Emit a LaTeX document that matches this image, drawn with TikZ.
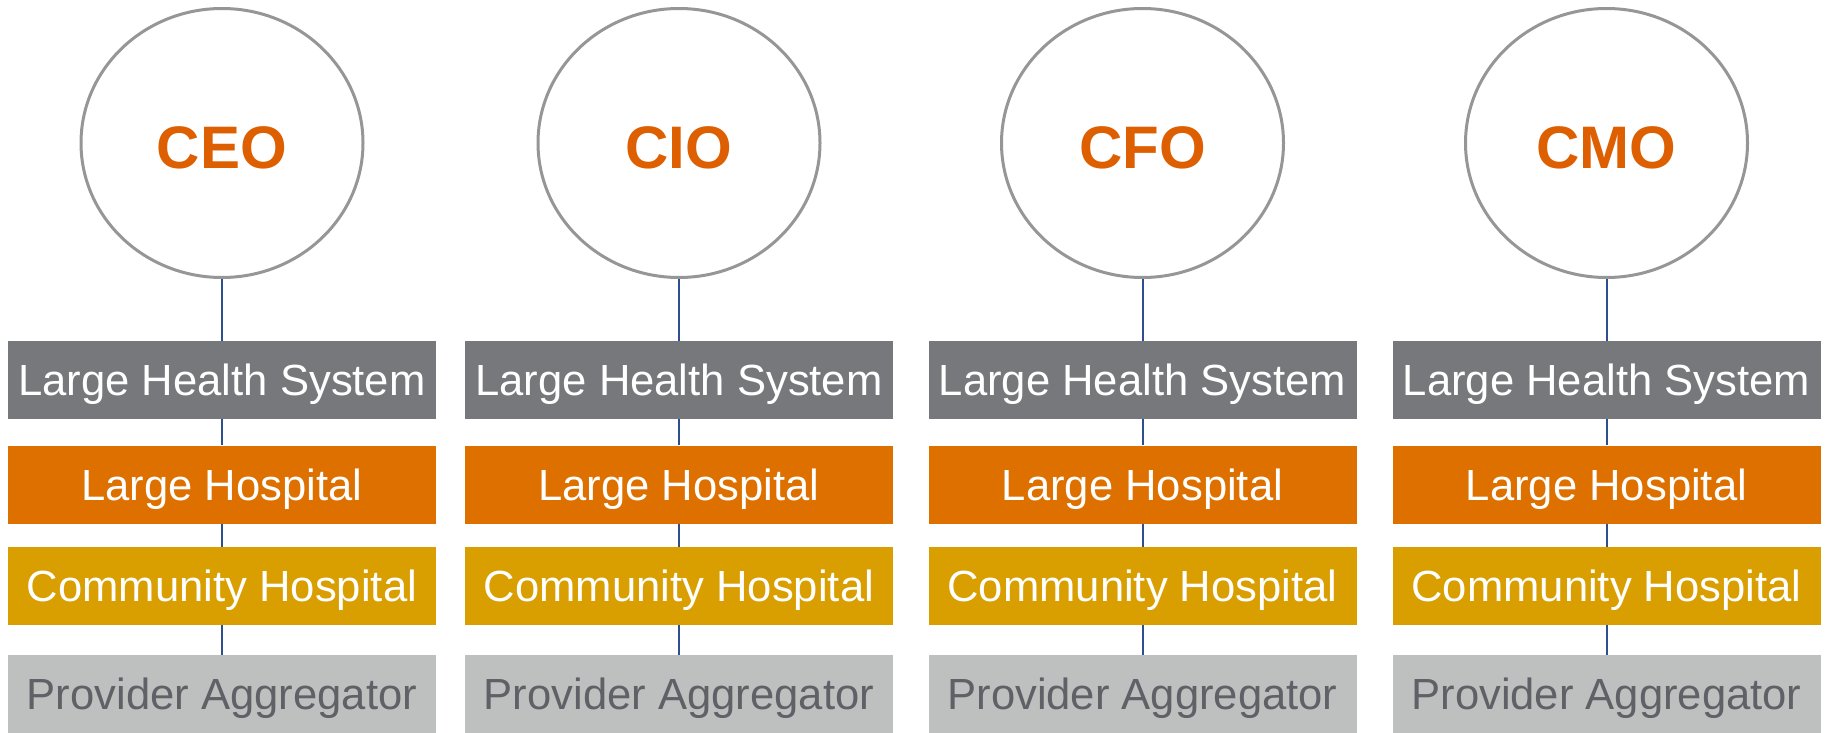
\documentclass[tikz,border=0pt]{standalone}
\usepackage{fontspec}
\setmainfont{Liberation Sans}
\usetikzlibrary{shapes.geometric}
\definecolor{roleorange}{HTML}{DD5F00}
\definecolor{ringgray}{HTML}{969696}
\definecolor{linkblue}{HTML}{2B4F8F}
\definecolor{sysgray}{HTML}{76787C}
\definecolor{hosporange}{HTML}{DE7000}
\definecolor{commgold}{HTML}{D99E00}
\definecolor{aggrgray}{HTML}{BEBFBF}
\definecolor{aggrtext}{HTML}{5F6166}
\tikzset{
  role/.style={ellipse, draw=ringgray, line width=3pt, fill=white,
    minimum width=282pt, minimum height=269pt, inner sep=0pt,
    text=roleorange, font=\bfseries\fontsize{60}{70}\selectfont,
    text height=50pt, text depth=0pt},
  tier/.style={rectangle, inner sep=0pt, minimum width=428pt, minimum height=78pt,
    font=\fontsize{43.6}{50}\selectfont, text height=31.4pt, text depth=0pt},
  systier/.style={tier, fill=sysgray, text=white},
  hosptier/.style={tier, fill=hosporange, text=white},
  commtier/.style={tier, fill=commgold, text=white},
  aggrtier/.style={tier, fill=aggrgray, text=aggrtext},
  link/.style={draw=linkblue, line width=2pt}
}
\begin{document}
\begin{tikzpicture}[x=1pt,y=-1pt]
\useasboundingbox (0,0) rectangle (1829,733);
\foreach \cx/\i/\role in {222/0/CEO,679/1/CIO,1142.5/2/CFO,1606.5/3/CMO}{
  \node[role] (r\i) at (\cx,143) {\role};
  \node[systier]  (s\i) at (\cx,380)   {Large Health System};
  \node[hosptier] (h\i) at (\cx,484.5) {Large Hospital};
  \node[commtier] (c\i) at (\cx,586)   {Community Hospital};
  \node[aggrtier] (a\i) at (\cx,693.7) {Provider Aggregator};
  % reporting chain down the column
  \draw[link] (r\i) -- (s\i);
  \draw[link] (s\i) -- (h\i);
  \draw[link] (h\i) -- (c\i);
  \draw[link] (c\i) -- (a\i);
}
\end{tikzpicture}
\end{document}
